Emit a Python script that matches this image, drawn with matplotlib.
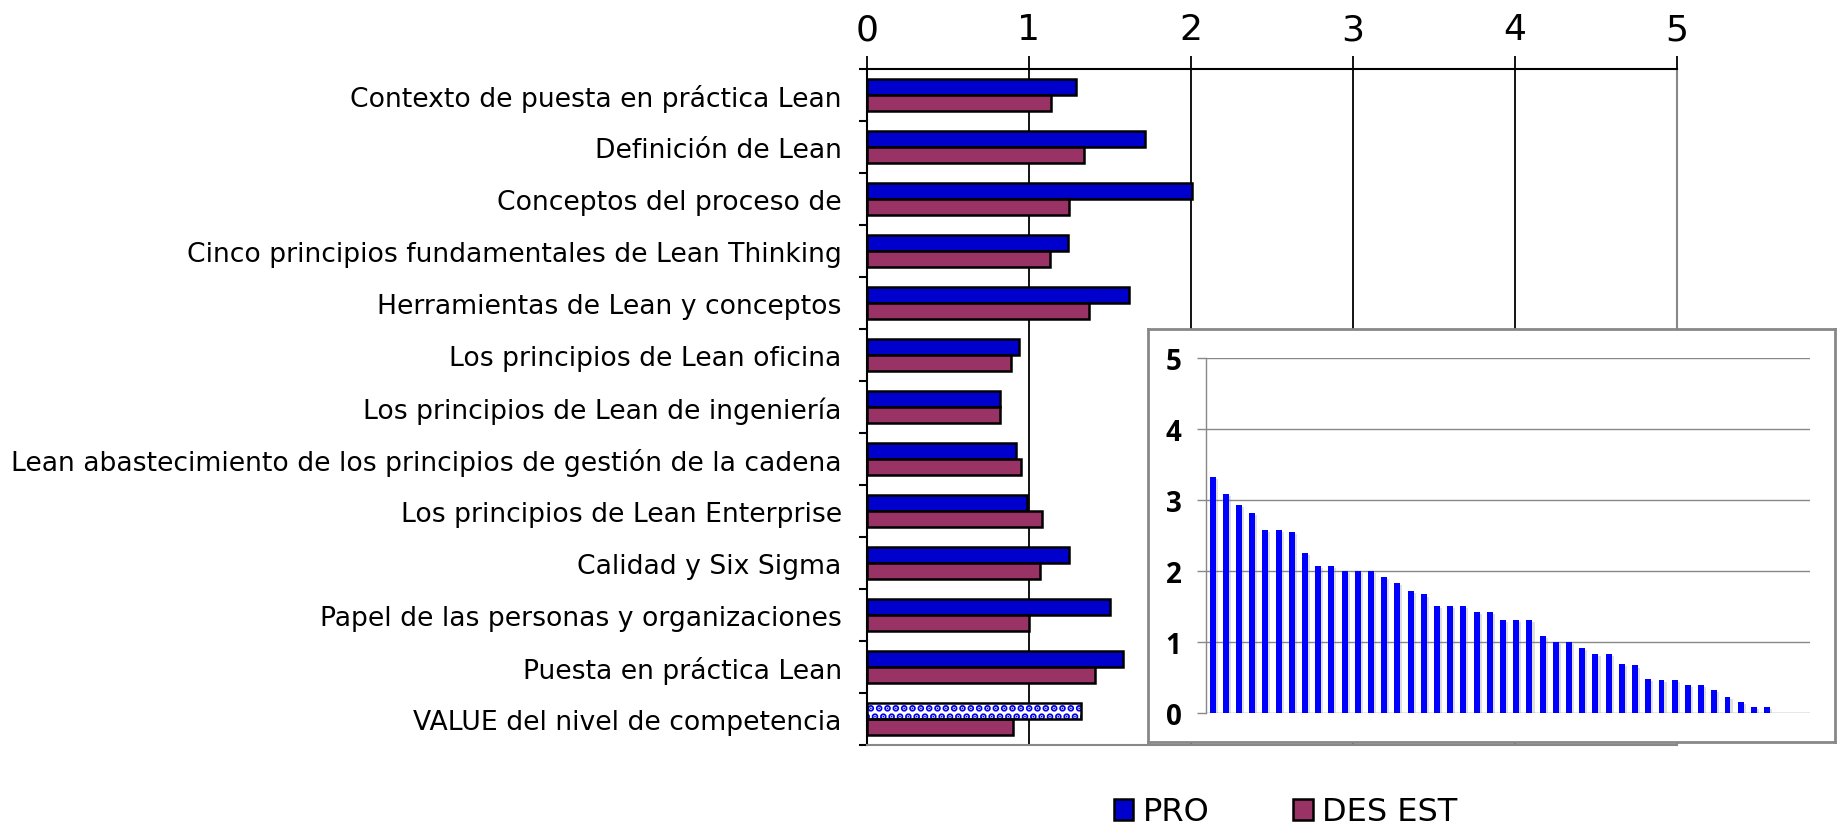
import matplotlib
matplotlib.use("Agg")
import matplotlib.pyplot as plt
import matplotlib.patheffects as pe
from matplotlib.patches import Patch
import numpy as np

categories = [
    "Contexto de puesta en práctica Lean",
    "Definición de Lean",
    "Conceptos del proceso de",
    "Cinco principios fundamentales de Lean Thinking",
    "Herramientas de Lean y conceptos",
    "Los principios de Lean oficina",
    "Los principios de Lean de ingeniería",
    "Lean abastecimiento de los principios de gestión de la cadena",
    "Los principios de Lean Enterprise",
    "Calidad y Six Sigma",
    "Papel de las personas y organizaciones",
    "Puesta en práctica Lean",
    "VALUE del nivel de competencia",
]
pro = [1.29, 1.72, 2.01, 1.24, 1.62, 0.94, 0.82, 0.92, 0.99, 1.25, 1.50, 1.58, 1.32]
des = [1.14, 1.34, 1.25, 1.13, 1.37, 0.89, 0.82, 0.95, 1.08, 1.07, 1.00, 1.41, 0.90]
xticks_main = [0, 1, 2, 3, 4, 5]
series_names = ["PRO", "DES EST"]

inset_values = [3.33, 3.09, 2.93, 2.82, 2.58, 2.58, 2.55, 2.25, 2.07, 2.07,
                2.00, 2.00, 2.00, 1.91, 1.83, 1.72, 1.67, 1.51, 1.51, 1.51,
                1.42, 1.42, 1.31, 1.31, 1.31, 1.08, 1.00, 1.00, 0.91, 0.83,
                0.83, 0.69, 0.67, 0.48, 0.46, 0.46, 0.40, 0.40, 0.32, 0.23,
                0.15, 0.08, 0.08]
inset_yticks = [0, 1, 2, 3, 4, 5]

PRO_C = "#0000CC"
DES_C = "#993366"
GRAY = "#888888"

plt.rcParams['font.family'] = ['DejaVu Sans']
plt.rcParams['hatch.linewidth'] = 3.5

fig = plt.figure(figsize=(18.39, 8.29), dpi=100)
W, H = 1839, 829

def fx(px):
    return px / W

def fy(py):
    return 1 - py / H

# main axes
ax = fig.add_axes([fx(866.7), fy(746), fx(1676.7) - fx(866.7), fy(70) - fy(746)])
n = len(categories)
y = np.arange(n)
h = 0.30
off = 0.15
EW = 1.8

# vertical gridlines
for xv in xticks_main[1:-1]:
    ax.axvline(xv, color="black", lw=1.3, zorder=1)

ax.barh(y[:-1] - off, pro[:-1], height=h, color=PRO_C, edgecolor="black",
        linewidth=EW, zorder=3)
# last PRO bar patterned
ax.barh(y[-1:] - off, pro[-1:], height=h, color="white", edgecolor="#0000EE",
        linewidth=0, hatch="..", zorder=3)
ax.barh(y[-1:] - off, pro[-1:], height=h, color="none", edgecolor="black",
        linewidth=EW, zorder=4)
ax.barh(y + off, des, height=h, color=DES_C, edgecolor="black",
        linewidth=EW, zorder=3)

ax.set_xlim(0, 5)
ax.set_ylim(n - 0.5, -0.5)
ax.xaxis.tick_top()
ax.set_xticks(xticks_main)
ax.set_xticklabels([str(v) for v in xticks_main])
ax.tick_params(axis="x", which="major", direction="out", length=9.4, width=1.3,
               labelsize=26, pad=7, colors="black", bottom=False)

ax.set_yticks(y)
ax.set_yticklabels(categories)
ax.set_yticks(np.arange(n + 1) - 0.5, minor=True)
ax.tick_params(axis="y", which="major", length=0, labelsize=19.2, pad=18)
ax.tick_params(axis="y", which="minor", length=6, width=1.5, direction="out",
               colors="black")

for s in ["top", "left"]:
    ax.spines[s].set_color("black")
    ax.spines[s].set_linewidth(1.5)
for s in ["bottom", "right"]:
    ax.spines[s].set_color(GRAY)
    ax.spines[s].set_linewidth(1.5)

# inset frame
box = fig.add_axes([fx(1148), fy(743), fx(1835) - fx(1148), fy(330) - fy(743)])
box.set_facecolor("white")
box.set_xticks([])
box.set_yticks([])
for s in box.spines.values():
    s.set_color(GRAY)
    s.set_linewidth(2.0)
box.set_zorder(5)

# inset chart
ins = fig.add_axes([fx(1206), fy(714), fx(1810) - fx(1206), fy(359) - fy(714)])
ins.set_zorder(6)
ins.patch.set_alpha(0)
xi = np.arange(len(inset_values))
bars = ins.bar(xi, inset_values, width=0.45, color="#0000FF", linewidth=0, zorder=3)
for b in bars:
    b.set_path_effects([pe.SimplePatchShadow(offset=(1.5, -1.5), shadow_rgbFace="gray", alpha=0.25),
                        pe.Normal()])
ins.set_xlim(-0.5, 45.25)
ins.set_ylim(0, 5)
ins.set_yticks(inset_yticks)
ins.set_yticklabels([str(v) for v in inset_yticks], fontfamily=["Open Sans", "DejaVu Sans"],
                    fontweight="bold")
ins.set_xticks([])
ins.grid(axis="y", color=GRAY, lw=1.0, zorder=0)
ins.tick_params(axis="y", length=6.7, width=1.0, color=GRAY, labelsize=20, pad=11)
for s in ["top", "right", "bottom"]:
    ins.spines[s].set_visible(False)
ins.spines["left"].set_color(GRAY)
ins.spines["left"].set_linewidth(1.0)

# legend
handles = [Patch(facecolor=PRO_C, edgecolor="black", linewidth=1.8),
           Patch(facecolor=DES_C, edgecolor="black", linewidth=1.8)]
fig.legend(handles, series_names, loc="center", bbox_to_anchor=(0.699, fy(813)),
           ncol=2, frameon=False, fontsize=23, handlelength=0.62, handleheight=0.62,
           handletextpad=0.3, columnspacing=2.6, borderpad=0)

fig.savefig("out.png", dpi=100)
